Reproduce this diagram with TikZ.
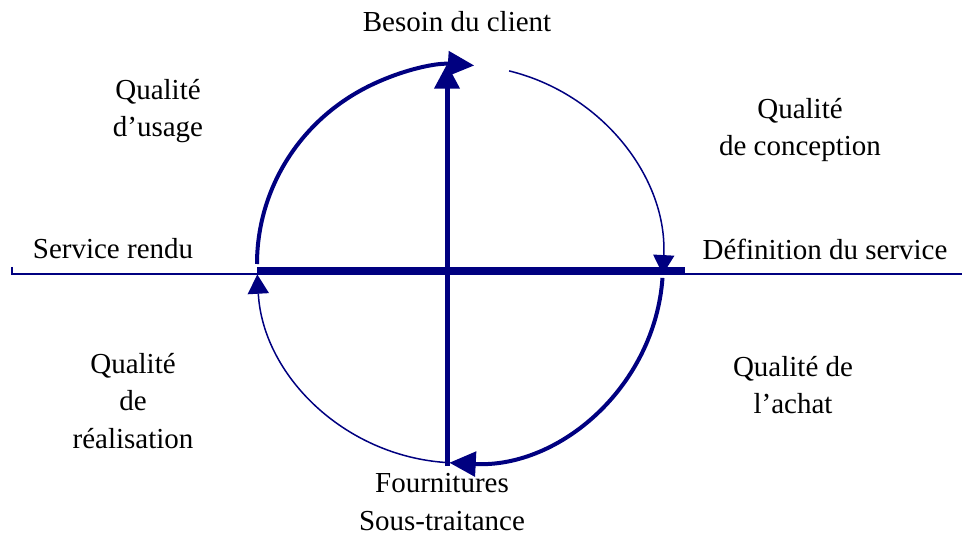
\documentclass[tikz,border=0pt]{standalone}
\usepackage{fontspec}
\setmainfont{Liberation Serif}
\usetikzlibrary{arrows.meta}
\definecolor{AxisNavy}{RGB}{0,0,128}

\begin{document}
\begin{tikzpicture}[x=0.02cm,y=0.02cm,
  lbl/.style={font=\fontsize{16.5}{21.5}\selectfont,align=center,inner sep=0pt},
  thickarc/.style={AxisNavy,line width=0.08cm,-{Triangle[length=15pt,width=14pt]}},
  thinarc/.style={AxisNavy,line width=0.03cm,-{Triangle[length=11pt,width=12pt]}}]
  \useasboundingbox (0,0) rectangle (962,534);
  % Centre and axis ends
  \coordinate (O) at (460,270);
  \coordinate (tick) at (12,267);
  \coordinate (lineL) at (12,260);
  \coordinate (lineR) at (962,260);
  \coordinate (barL) at (257,263);
  \coordinate (barR) at (685,263);
  \coordinate (axB) at (447,68);
  \coordinate (axT) at (447,470);
  % Labels
  \node[lbl] (besoin) at (457,512) {Besoin du client};
  \node[lbl] (usage) at (158,423) {Qualité\\d'usage};
  \node[lbl] (concept) at (800,404) {Qualité\\de conception};
  \node[lbl] (rendu) at (113,285) {Service rendu};
  \node[lbl] (defin) at (825,285) {Définition du service};
  \node[lbl] (realis) at (133,133) {Qualité\\de\\réalisation};
  \node[lbl] (achat) at (793,149) {Qualité de\\l'achat};
  \node[lbl] (fourn) at (442,32) {Fournitures\\Sous-traitance};
  % Axes
  \draw[AxisNavy,line width=0.03cm] (tick) -- (lineL) -- (lineR);
  \draw[AxisNavy,line width=0.16cm] (barL) -- (barR);
  \draw[AxisNavy,line width=0.1cm,-{Triangle[length=14pt,width=14pt]}] (axB) -- (axT);
  % Cycle
  \draw[thickarc] ([shift={(180:203 and 199)}]O) arc[start angle=180,end angle=86,x radius=203,y radius=199];
  \draw[thinarc] ([shift={(76:203 and 199)}]O) arc[start angle=76,end angle=-3,x radius=203,y radius=199];
  \draw[thickarc] ([shift={(-4:203 and 199)}]O) arc[start angle=-4,end angle=-93,x radius=203,y radius=199];
  \draw[thinarc] ([shift={(-94:203 and 199)}]O) arc[start angle=-94,end angle=-177,x radius=203,y radius=199];
\end{tikzpicture}
\end{document}
